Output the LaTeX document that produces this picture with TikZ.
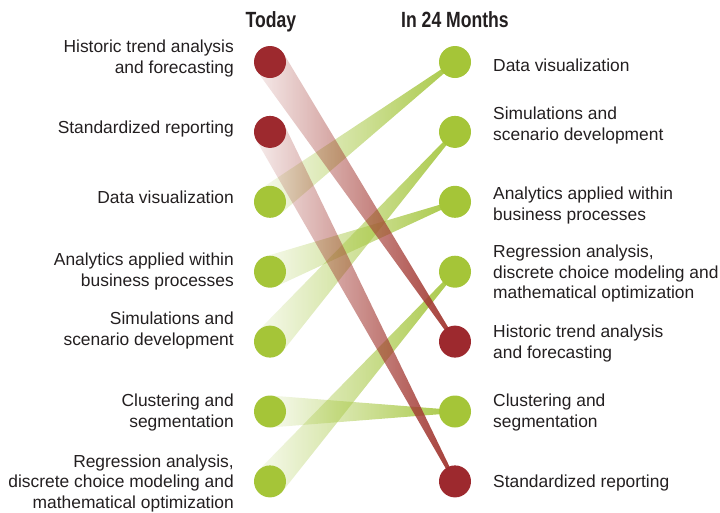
\documentclass[tikz,border=0pt]{standalone}
\usepackage{fontspec}
\setmainfont{Liberation Sans}
\newfontfamily\hdrfont[FakeStretch=0.8]{Liberation Sans}
\usetikzlibrary{calc,fadings}
\definecolor{dotred}{RGB}{157,41,46}
\definecolor{dotgreen}{RGB}{165,197,56}
\definecolor{bandred}{RGB}{163,58,52}
\definecolor{bandgreen}{RGB}{168,200,70}
\definecolor{txt}{RGB}{35,31,32}
\pgfdeclarelayer{bg}
\pgfsetlayers{bg,main}
\tikzfading[name=bandfade, left color=transparent!90, right color=transparent!0]
\tikzset{
 dot/.style={circle, inner sep=0pt, minimum size=32pt},
 reddot/.style={dot, fill=dotred},
 greendot/.style={dot, fill=dotgreen},
 lbl/.style={text=txt, font=\fontsize{17.4}{20.7}\selectfont, inner sep=0pt},
 llbl/.style={lbl, align=right, anchor=base east},
 rlbl/.style={lbl, align=left, anchor=base west},
 hdr/.style={text=txt, font=\hdrfont\bfseries\fontsize{22}{24}\selectfont, anchor=base, inner sep=0pt},
}
\newcommand\mkband[3]{%
 \fill[#1, path fading=bandfade] let \p1=($(#3)-(#2)$), \n1={atan2(\y1,\x1)} in
   ($(#2)+(\n1+90:16pt)$) -- ($(#3)+(\n1+90:1.5pt)$) -- ($(#3)+(\n1-90:1.5pt)$) -- ($(#2)+(\n1-90:16pt)$) -- cycle;}
\begin{document}
\begin{tikzpicture}[x=1pt,y=-1pt]
\useasboundingbox (0,0) rectangle (720,512);
% headers
\node[hdr] (hToday) at (271,27) {Today};
\node[hdr] (hIn24) at (455,27) {In 24 Months};
% left dots
\node[reddot]   (L1) at (270,62) {};
\node[reddot]   (L2) at (270,131.9) {};
\node[greendot] (L3) at (270,201.8) {};
\node[greendot] (L4) at (270,271.7) {};
\node[greendot] (L5) at (270,341.6) {};
\node[greendot] (L6) at (270,411.5) {};
\node[greendot] (L7) at (270,481.4) {};
% right dots
\node[greendot] (R1) at (455,62) {};
\node[greendot] (R2) at (455,131.9) {};
\node[greendot] (R3) at (455,201.8) {};
\node[greendot] (R4) at (455,271.7) {};
\node[reddot]   (R5) at (455,341.6) {};
\node[greendot] (R6) at (455,411.5) {};
\node[reddot]   (R7) at (455,481.4) {};
% bands
\begin{pgfonlayer}{bg}
\mkband{bandgreen}{L3}{R1}
\mkband{bandgreen}{L4}{R3}
\mkband{bandgreen}{L5}{R2}
\mkband{bandgreen}{L6}{R6}
\mkband{bandgreen}{L7}{R4}
\mkband{bandred}{L1}{R5}
\mkband{bandred}{L2}{R7}
\end{pgfonlayer}
% left labels (anchor = baseline of last line)
\node[llbl] (tL1) at (234,73.2) {Historic trend analysis\\and forecasting};
\node[llbl] (tL2) at (234,133.5) {Standardized reporting};
\node[llbl] (tL3) at (234,203.5) {Data visualization};
\node[llbl] (tL4) at (234,286.2) {Analytics applied within\\business processes};
\node[llbl] (tL5) at (234,345.2) {Simulations and\\scenario development};
\node[llbl] (tL6) at (234,427.2) {Clustering and\\segmentation};
\node[llbl] (tL7) at (234,508.4) {Regression analysis,\\discrete choice modeling and\\mathematical optimization};
% right labels
\node[rlbl] (tR1) at (493,71.5) {Data visualization};
\node[rlbl] (tR2) at (493,140.2) {Simulations and\\scenario development};
\node[rlbl] (tR3) at (493,220.2) {Analytics applied within\\business processes};
\node[rlbl] (tR4) at (493,298.9) {Regression analysis,\\discrete choice modeling and\\mathematical optimization};
\node[rlbl] (tR5) at (493,358.2) {Historic trend analysis\\and forecasting};
\node[rlbl] (tR6) at (493,427.2) {Clustering and\\segmentation};
\node[rlbl] (tR7) at (493,487.5) {Standardized reporting};
\end{tikzpicture}
\end{document}
